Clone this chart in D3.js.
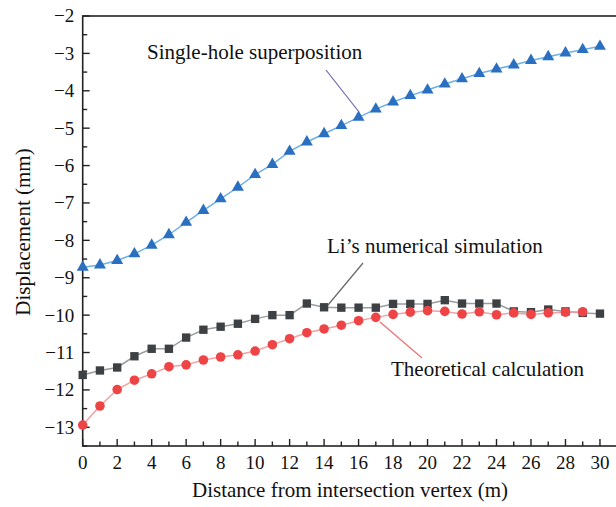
<!DOCTYPE html>
<html>
<head>
<meta charset="utf-8">
<script src="https://cdn.jsdelivr.net/npm/d3@7"></script>
<style>
  body { margin: 0; background: #fff; }
  text { font-family: "Liberation Serif", "Times New Roman", serif; fill: #111; }
</style>
</head>
<body>
<div id="chart"></div>
<script>
// distance from intersection vertex (m)
const distance = d3.range(0, 31);

// displacement (mm)
const singleHole = [-8.72, -8.66, -8.54, -8.36, -8.13, -7.85, -7.52, -7.2, -6.89, -6.58,
  -6.24, -5.97, -5.62, -5.37, -5.15, -4.93, -4.71, -4.49, -4.3, -4.13,
  -3.98, -3.82, -3.68, -3.54, -3.42, -3.31, -3.19, -3.09, -2.99, -2.9, -2.81];
const liSimulation = [-11.6, -11.48, -11.4, -11.1, -10.9, -10.9, -10.6, -10.39, -10.31, -10.23,
  -10.1, -10.0, -10.0, -9.69, -9.79, -9.8, -9.8, -9.8, -9.7, -9.7,
  -9.7, -9.6, -9.69, -9.69, -9.69, -9.9, -9.92, -9.85, -9.9, -9.94, -9.96];
const theoretical = [-12.94, -12.43, -11.99, -11.74, -11.57, -11.38, -11.33, -11.2, -11.12, -11.06,
  -10.96, -10.79, -10.63, -10.47, -10.37, -10.27, -10.15, -10.06, -9.98, -9.92,
  -9.88, -9.9, -9.97, -9.91, -9.99, -9.94, -9.98, -9.94, -9.92, -9.91];

const xTicks = d3.range(0, 31, 2);
const yTicks = d3.range(-13, -1, 1);

const width = 616, height = 507;
const margin = {top: 16, bottom: 61, left: 82.7};

const svg = d3.select("#chart").append("svg")
    .attr("width", width)
    .attr("height", height);

const x = d3.scaleLinear([0, 31], [margin.left, 617.2]);
const y = d3.scaleLinear([-13.5, -2], [height - margin.bottom, margin.top]);

// frame
svg.append("rect")
    .attr("x", x(0)).attr("y", y(-2))
    .attr("width", x(31) - x(0)).attr("height", y(-13.5) - y(-2))
    .attr("fill", "none").attr("stroke", "#222").attr("stroke-width", 1.6);

// x axis, ticks pointing inward
const xAxis = svg.append("g").attr("transform", `translate(0,${y(-13.5)})`);
xAxis.selectAll("line").data(d3.range(0, 31))
  .join("line")
    .attr("x1", d => x(d)).attr("x2", d => x(d))
    .attr("y1", 0).attr("y2", d => d % 2 === 0 ? -7 : -4.5)
    .attr("stroke", "#222").attr("stroke-width", 1.4);
xAxis.selectAll("text").data(xTicks)
  .join("text")
    .attr("x", d => x(d)).attr("y", 23)
    .attr("text-anchor", "middle")
    .attr("font-size", 19)
    .text(d => d);

// y axis
const yAxis = svg.append("g").attr("transform", `translate(${x(0)},0)`);
yAxis.selectAll("line").data(d3.range(-13.5, -1.9, 0.5))
  .join("line")
    .attr("y1", d => y(d)).attr("y2", d => y(d))
    .attr("x1", 0).attr("x2", d => Number.isInteger(d) ? 7 : 4.5)
    .attr("stroke", "#222").attr("stroke-width", 1.4);
yAxis.selectAll("text").data(yTicks)
  .join("text")
    .attr("x", -8.5).attr("y", d => y(d))
    .attr("dy", "0.34em")
    .attr("text-anchor", "end")
    .attr("font-size", 19)
    .text(d => "\u2212" + Math.abs(d));

// axis titles
svg.append("text")
    .attr("x", 350).attr("y", 497)
    .attr("text-anchor", "middle")
    .attr("font-size", 21)
    .text("Distance from intersection vertex (m)");

svg.append("text")
    .attr("transform", `translate(30,${232}) rotate(-90)`)
    .attr("text-anchor", "middle")
    .attr("font-size", 21)
    .text("Displacement (mm)");

const line = d3.line().x((d, i) => x(distance[i])).y(d => y(d));

function drawSeries(values, lineColor, markColor, symbol, size) {
  svg.append("path")
      .datum(values)
      .attr("d", line)
      .attr("fill", "none")
      .attr("stroke", lineColor)
      .attr("stroke-width", 1.5);
  svg.append("g")
    .selectAll("path")
    .data(values)
    .join("path")
      .attr("transform", (d, i) => `translate(${x(distance[i])},${y(d)})`)
      .attr("d", d3.symbol(symbol, size))
      .attr("fill", markColor);
}

drawSeries(liSimulation, "#9a9c9e", "#3d4144", d3.symbolSquare, 70);
drawSeries(theoretical, "#f5a0a0", "#ee4446", d3.symbolCircle, 72);
drawSeries(singleHole, "#6cb0e8", "#2b70c0", d3.symbolTriangle, 62);

// annotations
function annotate(label, tx, ty, x1, y1, x2, y2, color) {
  svg.append("line")
      .attr("x1", x1).attr("y1", y1).attr("x2", x2).attr("y2", y2)
      .attr("stroke", color).attr("stroke-width", 1.2);
  svg.append("text")
      .attr("x", tx).attr("y", ty)
      .attr("font-size", 21)
      .text(label);
}

annotate("Single-hole superposition", 147, 59, 326, 70, 359, 112, "#6a66b0");
annotate("Li\u2019s numerical simulation", 327, 253, 363, 263, 328, 305, "#666");
annotate("Theoretical calculation", 391, 376, 422, 358, 380, 322, "#f07070");
</script>
</body>
</html>
